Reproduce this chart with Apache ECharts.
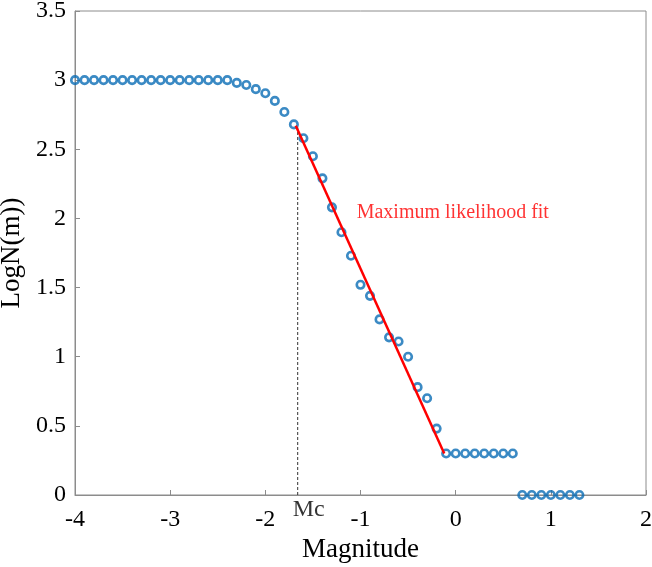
<!DOCTYPE html>
<html>
<head>
<meta charset="utf-8">
<script src="https://cdn.jsdelivr.net/npm/echarts@6/dist/echarts.min.js"></script>
<style>
  html, body { margin: 0; padding: 0; background: #fff; }
  #chart { width: 652px; height: 567px; }
</style>
</head>
<body>
<div id="chart"></div>
<script>
// Frequency–magnitude distribution: magnitude bins and log10 cumulative counts
const magnitudes = [
  -4.0, -3.9, -3.8, -3.7, -3.6, -3.5, -3.4, -3.3, -3.2, -3.1,
  -3.0, -2.9, -2.8, -2.7, -2.6, -2.5, -2.4, -2.3, -2.2, -2.1,
  -2.0, -1.9, -1.8, -1.7, -1.6, -1.5, -1.4, -1.3, -1.2, -1.1,
  -1.0, -0.9, -0.8, -0.7, -0.6, -0.5, -0.4, -0.3, -0.2, -0.1,
  0.0, 0.1, 0.2, 0.3, 0.4, 0.5, 0.6,
  0.7, 0.8, 0.9, 1.0, 1.1, 1.2, 1.3
];
const logN = [
  3.00, 3.00, 3.00, 3.00, 3.00, 3.00, 3.00, 3.00, 3.00, 3.00,
  3.00, 3.00, 3.00, 3.00, 3.00, 3.00, 3.00, 2.98, 2.965, 2.935,
  2.905, 2.85, 2.77, 2.68, 2.58, 2.45, 2.29, 2.08, 1.90, 1.73,
  1.52, 1.44, 1.27, 1.14, 1.11, 1.00, 0.78, 0.70, 0.48, 0.30,
  0.30, 0.30, 0.30, 0.30, 0.30, 0.30, 0.30,
  0, 0, 0, 0, 0, 0, 0
];

// Magnitude of completeness and the maximum-likelihood fit segment
const mc = -1.66;
const mcTop = 2.66;
const fitStart = [-1.68, 2.67];
const fitEnd = [-0.12, 0.30];
const fitLabel = 'Maximum likelihood fit';
const fitLabelAt = [-1.04, 2.04];

const xTicks = { min: -4, max: 2, interval: 1 };
const yTicks = { min: 0, max: 3.5, interval: 0.5 };

const serif = '"Liberation Serif", "Times New Roman", serif';
const axisGray = '#8c8c8c';

const points = magnitudes.map((m, i) => [m, logN[i]]);

const chart = echarts.init(document.getElementById('chart'), null, { renderer: 'canvas' });
chart.setOption({
  backgroundColor: '#fff',
  animation: false,
  grid: {
    left: 75, top: 11, right: 6, bottom: 72,
    outerBoundsMode: 'none',
    containLabel: false,
    show: true, borderColor: axisGray, borderWidth: 1, backgroundColor: 'transparent'
  },
  xAxis: {
    type: 'value',
    min: xTicks.min, max: xTicks.max, interval: xTicks.interval,
    name: 'Magnitude',
    nameLocation: 'middle',
    nameGap: 38,
    nameTextStyle: { fontFamily: serif, fontSize: 27, color: '#000' },
    axisLine: { show: true, onZero: false, lineStyle: { color: axisGray, width: 1 } },
    axisTick: { show: true, inside: true, length: 5, lineStyle: { color: axisGray } },
    axisLabel: { fontFamily: serif, fontSize: 24, color: '#000', margin: 13 },
    splitLine: { show: false }
  },
  yAxis: {
    type: 'value',
    min: yTicks.min, max: yTicks.max, interval: yTicks.interval,
    name: 'LogN(m))',
    nameLocation: 'middle',
    nameGap: 40,
    nameRotate: 90,
    nameTextStyle: { fontFamily: serif, fontSize: 27, color: '#000' },
    axisLine: { show: true, onZero: false, lineStyle: { color: axisGray, width: 1 } },
    axisTick: { show: true, inside: true, length: 5, lineStyle: { color: axisGray } },
    axisLabel: { fontFamily: serif, fontSize: 24, color: '#000', margin: 9 },
    splitLine: { show: false }
  },
  series: [
    {
      name: 'Mc',
      type: 'line',
      data: [[mc, 0], [mc, mcTop]],
      symbol: 'none',
      lineStyle: { color: '#333', width: 1, type: [3, 2] },
      z: 1,
      silent: true
    },
    {
      name: 'Mc label',
      type: 'scatter',
      data: [[mc, 0]],
      symbolSize: 0,
      silent: true,
      label: {
        show: true, position: 'bottom', distance: 0, offset: [11, 3],
        formatter: 'Mc', fontFamily: serif, fontSize: 24, color: '#000'
      },
      z: 5
    },
    {
      name: 'logN',
      type: 'scatter',
      data: points,
      symbol: 'circle',
      symbolSize: 7.5,
      itemStyle: { color: 'rgba(255,255,255,0)', borderColor: '#0a6db5', borderWidth: 2.6 },
      z: 2
    },
    {
      name: 'fit',
      type: 'line',
      data: [fitStart, fitEnd],
      symbol: 'none',
      lineStyle: { color: '#ff0000', width: 2.5 },
      z: 3,
      silent: true
    },
    {
      name: 'fit label',
      type: 'scatter',
      data: [fitLabelAt],
      symbolSize: 0,
      silent: true,
      label: {
        show: true, position: 'right', distance: 0,
        formatter: fitLabel, fontFamily: serif, fontSize: 20, color: '#ff0000'
      },
      z: 5
    }
  ]
});
</script>
</body>
</html>
